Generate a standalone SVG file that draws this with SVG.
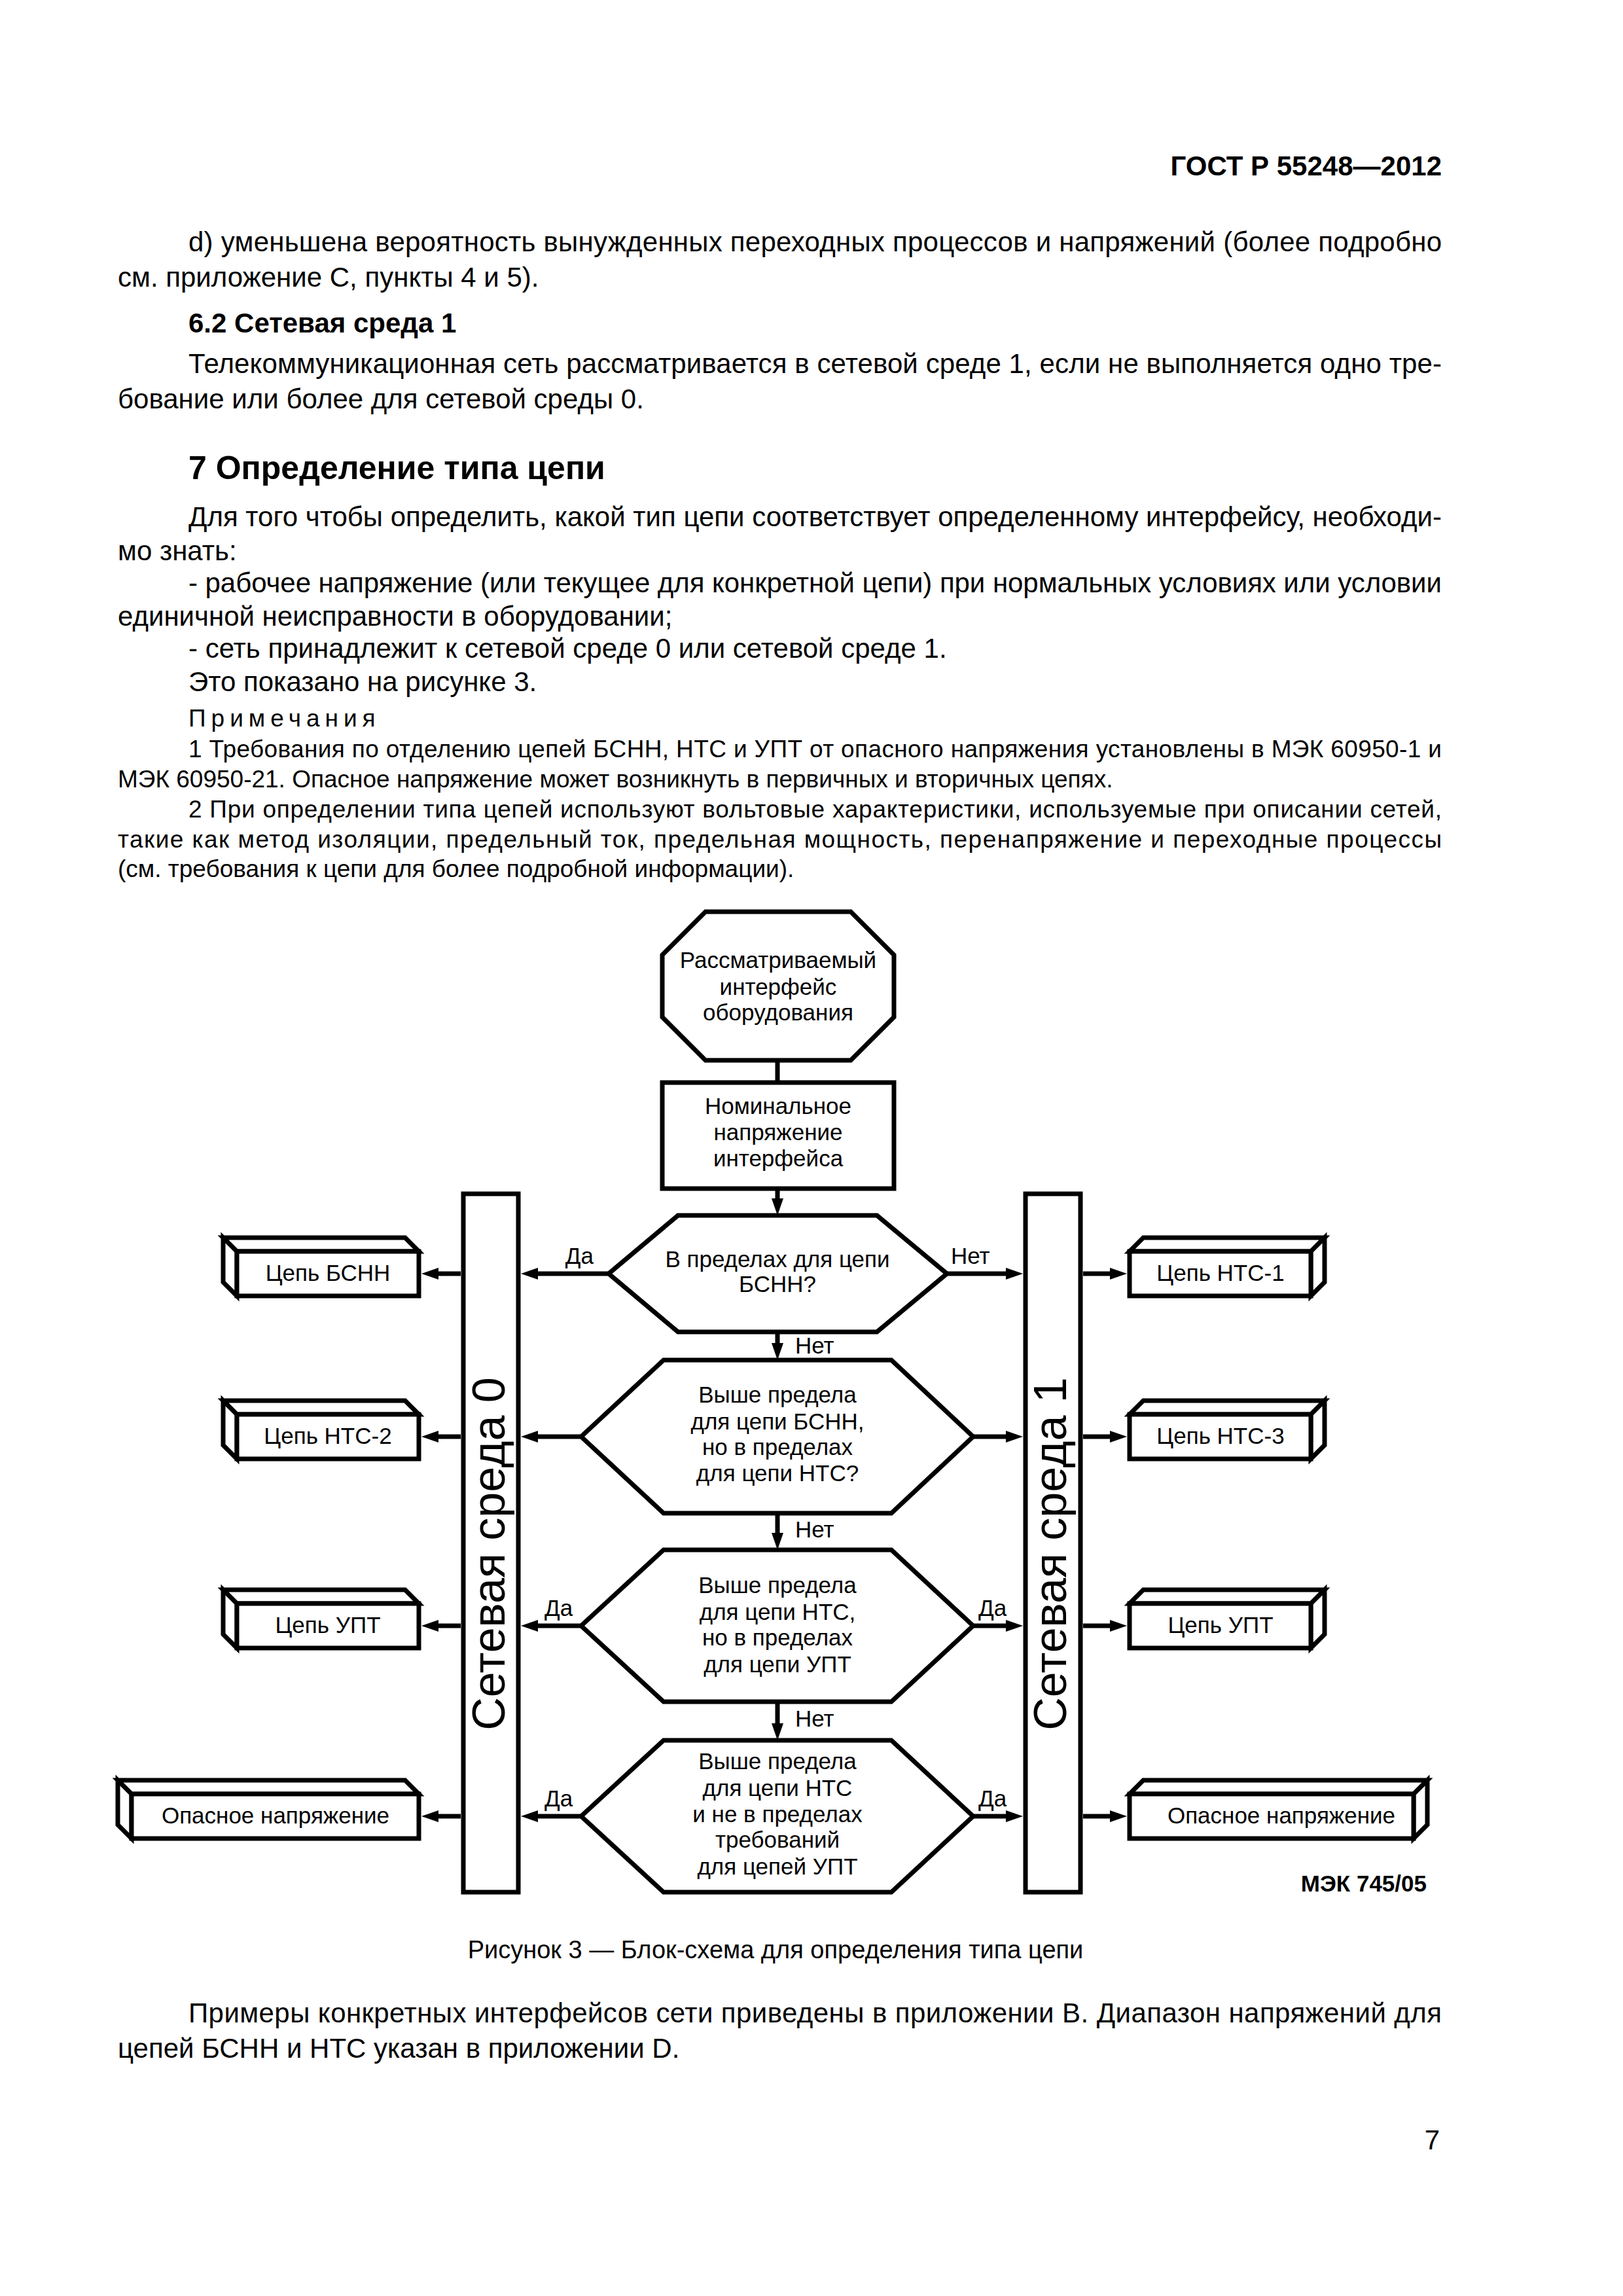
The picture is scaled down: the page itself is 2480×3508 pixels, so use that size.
<svg xmlns="http://www.w3.org/2000/svg" width="2480" height="3508" viewBox="0 0 2480 3508">
<style>
text{font-family:"Liberation Sans",Arial,sans-serif;fill:#000}
.b{font-size:42px}
.bb{font-size:42px;font-weight:bold}
.h1{font-size:50px;font-weight:bold}
.n{font-size:37px}
.d{font-size:35px;text-anchor:middle}
.l{font-size:35px}
.bar{font-size:70px;text-anchor:middle}
.sh{fill:#fff;stroke:#000;stroke-width:7;stroke-linejoin:miter}
.ln{fill:none;stroke:#000;stroke-width:7}
</style>
<defs>
<marker id="ah" markerUnits="userSpaceOnUse" markerWidth="28" markerHeight="20" refX="0" refY="9" orient="auto" viewBox="0 0 28 18">
<path d="M0,0 L26,9 L0,18 z" fill="#000"/>
</marker>
</defs>

<g id="page-text">
<text class="bb" x="2203" y="268" text-anchor="end">ГОСТ Р 55248—2012</text>
<text class="b" x="288" y="384" textLength="1915" lengthAdjust="spacing">d) уменьшена вероятность вынужденных переходных процессов и напряжений (более подробно</text>
<text class="b" x="180" y="438">см. приложение С, пункты 4 и 5).</text>
<text class="bb" x="288" y="508">6.2 Сетевая среда 1</text>
<text class="b" x="288" y="570" textLength="1915" lengthAdjust="spacing">Телекоммуникационная сеть рассматривается в сетевой среде 1, если не выполняется одно тре-</text>
<text class="b" x="180" y="624">бование или более для сетевой среды 0.</text>
<text class="h1" x="288" y="732">7 Определение типа цепи</text>
<text class="b" x="288" y="804" textLength="1915" lengthAdjust="spacing">Для того чтобы определить, какой тип цепи соответствует определенному интерфейсу, необходи-</text>
<text class="b" x="180" y="856">мо знать:</text>
<text class="b" x="288" y="905" textLength="1915" lengthAdjust="spacing">-  рабочее напряжение (или текущее для конкретной цепи) при нормальных условиях или условии</text>
<text class="b" x="180" y="956">единичной неисправности в оборудовании;</text>
<text class="b" x="288" y="1005">-  сеть принадлежит к сетевой среде 0 или сетевой среде 1.</text>
<text class="b" x="288" y="1056">Это показано на рисунке 3.</text>
<text class="n" x="288" y="1110" letter-spacing="8">Примечания</text>
<text class="n" x="288" y="1157" textLength="1915" lengthAdjust="spacing">1 Требования по отделению цепей БСНН, НТС и УПТ от опасного напряжения установлены в МЭК 60950-1 и</text>
<text class="n" x="180" y="1203">МЭК 60950-21. Опасное напряжение может возникнуть в первичных и вторичных цепях.</text>
<text class="n" x="288" y="1249" textLength="1915" lengthAdjust="spacing">2 При определении типа цепей используют вольтовые характеристики, используемые при описании сетей,</text>
<text class="n" x="180" y="1295" textLength="2023" lengthAdjust="spacing">такие как метод изоляции, предельный ток, предельная мощность, перенапряжение и переходные процессы</text>
<text class="n" x="180" y="1340">(см. требования к цепи для более подробной информации).</text>
</g>

<g id="connectors">
<line class="ln" x1="1188" y1="1620" x2="1188" y2="1654"/>
<line class="ln" x1="1188" y1="1816" x2="1188" y2="1831" marker-end="url(#ah)"/>
<line class="ln" x1="1188" y1="2035" x2="1188" y2="2052" marker-end="url(#ah)"/>
<line class="ln" x1="1188" y1="2312" x2="1188" y2="2342" marker-end="url(#ah)"/>
<line class="ln" x1="1188" y1="2600" x2="1188" y2="2633" marker-end="url(#ah)"/>
<text class="l" x="1215" y="2068">Нет</text>
<text class="l" x="1215" y="2349">Нет</text>
<text class="l" x="1215" y="2638">Нет</text>
<!-- row 1 -->
<line class="ln" x1="930" y1="1946" x2="822" y2="1946" marker-end="url(#ah)"/>
<line class="ln" x1="704" y1="1946" x2="670" y2="1946" marker-end="url(#ah)"/>
<line class="ln" x1="1447" y1="1946" x2="1537" y2="1946" marker-end="url(#ah)"/>
<line class="ln" x1="1655" y1="1946" x2="1696" y2="1946" marker-end="url(#ah)"/>
<text class="l" x="907" y="1931" text-anchor="end">Да</text>
<text class="l" x="1453" y="1931">Нет</text>
<!-- row 2 -->
<line class="ln" x1="888" y1="2195" x2="822" y2="2195" marker-end="url(#ah)"/>
<line class="ln" x1="704" y1="2195" x2="670" y2="2195" marker-end="url(#ah)"/>
<line class="ln" x1="1487" y1="2195" x2="1537" y2="2195" marker-end="url(#ah)"/>
<line class="ln" x1="1655" y1="2195" x2="1696" y2="2195" marker-end="url(#ah)"/>
<!-- row 3 -->
<line class="ln" x1="888" y1="2484" x2="822" y2="2484" marker-end="url(#ah)"/>
<line class="ln" x1="704" y1="2484" x2="670" y2="2484" marker-end="url(#ah)"/>
<line class="ln" x1="1487" y1="2484" x2="1537" y2="2484" marker-end="url(#ah)"/>
<line class="ln" x1="1655" y1="2484" x2="1696" y2="2484" marker-end="url(#ah)"/>
<text class="l" x="832" y="2469">Да</text>
<text class="l" x="1495" y="2469">Да</text>
<!-- row 4 -->
<line class="ln" x1="888" y1="2775" x2="822" y2="2775" marker-end="url(#ah)"/>
<line class="ln" x1="704" y1="2775" x2="670" y2="2775" marker-end="url(#ah)"/>
<line class="ln" x1="1487" y1="2775" x2="1537" y2="2775" marker-end="url(#ah)"/>
<line class="ln" x1="1655" y1="2775" x2="1696" y2="2775" marker-end="url(#ah)"/>
<text class="l" x="832" y="2760">Да</text>
<text class="l" x="1495" y="2760">Да</text>
</g>

<g id="start">
<polygon class="sh" points="1078,1393 1300,1393 1366,1459 1366,1554 1300,1620 1078,1620 1012,1554 1012,1459"/>
<text class="d" x="1189" y="1479">Рассматриваемый</text>
<text class="d" x="1189" y="1520">интерфейс</text>
<text class="d" x="1189" y="1559">оборудования</text>
</g>

<g id="nominal">
<rect class="sh" x="1012" y="1654" width="354" height="162"/>
<text class="d" x="1189" y="1702">Номинальное</text>
<text class="d" x="1189" y="1742">напряжение</text>
<text class="d" x="1189" y="1782">интерфейса</text>
</g>

<g id="q1">
<polygon class="sh" points="1036,1857 1340,1857 1447,1946 1340,2035 1036,2035 930,1946"/>
<text class="d" x="1188" y="1936">В пределах для цепи</text>
<text class="d" x="1188" y="1974">БСНН?</text>
</g>

<g id="q2">
<polygon class="sh" points="1014,2078 1362,2078 1487,2195 1362,2312 1014,2312 888,2195"/>
<text class="d" x="1188" y="2143">Выше предела</text>
<text class="d" x="1188" y="2184">для цепи БСНН,</text>
<text class="d" x="1188" y="2223">но в пределах</text>
<text class="d" x="1188" y="2263">для цепи НТС?</text>
</g>

<g id="q3">
<polygon class="sh" points="1014,2368 1362,2368 1487,2484 1362,2600 1014,2600 888,2484"/>
<text class="d" x="1188" y="2434">Выше предела</text>
<text class="d" x="1188" y="2475">для цепи НТС,</text>
<text class="d" x="1188" y="2514">но в пределах</text>
<text class="d" x="1188" y="2555">для цепи УПТ</text>
</g>

<g id="q4">
<polygon class="sh" points="1014,2659 1362,2659 1487,2775 1362,2891 1014,2891 888,2775"/>
<text class="d" x="1188" y="2703">Выше предела</text>
<text class="d" x="1188" y="2744">для цепи НТС</text>
<text class="d" x="1188" y="2784">и не в пределах</text>
<text class="d" x="1188" y="2823">требований</text>
<text class="d" x="1188" y="2864">для цепей УПТ</text>
</g>

<g id="env0">
<rect class="sh" x="708" y="1824" width="84" height="1067"/>
<text class="bar" transform="translate(771,2374) rotate(-90)">Сетевая среда 0</text>
</g>

<g id="env1">
<rect class="sh" x="1567" y="1824" width="84" height="1067"/>
<text class="bar" transform="translate(1629,2374) rotate(-90)">Сетевая среда 1</text>
</g>

<g id="l-bsnn">
<path class="sh" d="M362,1912 L341,1891 L619,1891 L640,1912 Z M341,1891 L341,1959 L362,1980 L362,1912 Z"/>
<rect class="sh" x="362" y="1912" width="278" height="68"/>
<text class="d" x="501" y="1957">Цепь БСНН</text>
</g>
<g id="l-nts2">
<path class="sh" d="M362,2161 L341,2140 L619,2140 L640,2161 Z M341,2140 L341,2208 L362,2229 L362,2161 Z"/>
<rect class="sh" x="362" y="2161" width="278" height="68"/>
<text class="d" x="501" y="2206">Цепь НТС-2</text>
</g>
<g id="l-upt">
<path class="sh" d="M362,2450 L341,2429 L619,2429 L640,2450 Z M341,2429 L341,2497 L362,2518 L362,2450 Z"/>
<rect class="sh" x="362" y="2450" width="278" height="68"/>
<text class="d" x="501" y="2495">Цепь УПТ</text>
</g>
<g id="l-hazard">
<path class="sh" d="M201,2741 L180,2720 L619,2720 L640,2741 Z M180,2720 L180,2788 L201,2809 L201,2741 Z"/>
<rect class="sh" x="201" y="2741" width="439" height="68"/>
<text class="d" x="421" y="2786">Опасное напряжение</text>
</g>

<g id="r-nts1">
<path class="sh" d="M1726,1912 L1747,1891 L2024,1891 L2003,1912 Z M2024,1891 L2024,1959 L2003,1980 L2003,1912 Z"/>
<rect class="sh" x="1726" y="1912" width="277" height="68"/>
<text class="d" x="1865" y="1957">Цепь НТС-1</text>
</g>
<g id="r-nts3">
<path class="sh" d="M1726,2161 L1747,2140 L2024,2140 L2003,2161 Z M2024,2140 L2024,2208 L2003,2229 L2003,2161 Z"/>
<rect class="sh" x="1726" y="2161" width="277" height="68"/>
<text class="d" x="1865" y="2206">Цепь НТС-3</text>
</g>
<g id="r-upt">
<path class="sh" d="M1726,2450 L1747,2429 L2024,2429 L2003,2450 Z M2024,2429 L2024,2497 L2003,2518 L2003,2450 Z"/>
<rect class="sh" x="1726" y="2450" width="277" height="68"/>
<text class="d" x="1865" y="2495">Цепь УПТ</text>
</g>
<g id="r-hazard">
<path class="sh" d="M1726,2741 L1747,2720 L2181,2720 L2160,2741 Z M2181,2720 L2181,2788 L2160,2809 L2160,2741 Z"/>
<rect class="sh" x="1726" y="2741" width="434" height="68"/>
<text class="d" x="1958" y="2786">Опасное напряжение</text>
</g>

<g id="captions">
<text x="2180" y="2890" text-anchor="end" style="font-size:35px;font-weight:bold">МЭК 745/05</text>
<text x="1185" y="2992" text-anchor="middle" style="font-size:38px">Рисунок 3 — Блок-схема для определения типа цепи</text>
<text class="b" x="288" y="3090" textLength="1915" lengthAdjust="spacing">Примеры конкретных интерфейсов сети приведены в приложении В. Диапазон напряжений для</text>
<text class="b" x="180" y="3144">цепей БСНН и НТС указан в приложении D.</text>
<text class="b" x="2200" y="3284" text-anchor="end">7</text>
</g>
</svg>
